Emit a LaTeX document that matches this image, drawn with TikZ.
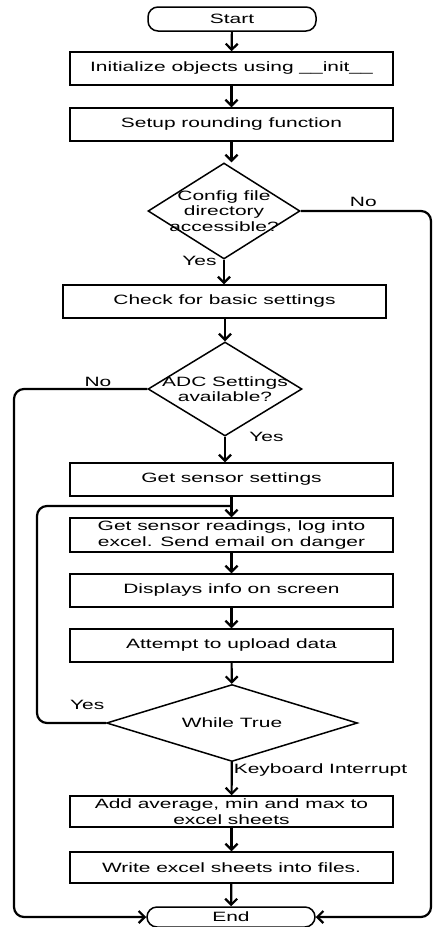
\documentclass[tikz,border=0pt]{standalone}
\usepackage{fontspec}
\setmainfont{Liberation Sans}[FakeStretch=1.55]
\usetikzlibrary{positioning,arrows.meta,shapes.geometric,calc}

\begin{document}
\begin{tikzpicture}[
    x=1pt, y=-1pt,
    font=\fontsize{13.5}{15.5}\selectfont,
    box/.style={draw, line width=1.5pt, align=center, minimum width=323pt, minimum height=33pt, inner sep=0pt},
    term/.style={draw, line width=1.5pt, rounded corners=10pt, minimum width=168pt, minimum height=22pt, inner sep=0pt},
    decision/.style={draw, diamond, line width=1.5pt, inner sep=0pt},
    arrow/.style={-{Straight Barb[length=6pt,width=12pt]}, line width=2.2pt},
    link/.style={line width=2.2pt, rounded corners=10pt}
]
\useasboundingbox (0,0) rectangle (435,927);

\node[term, minimum height=24pt] (start) at (232,19) {Start};
\node[box] (init) at (231.5,68.5) {Initialize objects using \_\_init\_\_};
\node[box] (round) at (231.5,124.5) {Setup rounding function};
\node[decision, minimum width=152pt, minimum height=96pt,
      label={[align=center]center:Config file\\directory\\accessible?}] (cfg) at (224,211) {};
\node[box] (check) at (224.5,301.5) {Check for basic settings};
\node[decision, minimum width=154pt, minimum height=94pt,
      label={[align=center]center:ADC Settings\\available?}] (adc) at (225,389) {};
\node[box] (sset) at (231.5,479.5) {Get sensor settings};
\node[box, minimum height=34pt] (read) at (231.5,535) {Get sensor readings, log into\\excel. Send email on danger};
\node[box] (disp) at (231.5,590.5) {Displays info on screen};
\node[box] (upl) at (231.5,645.5) {Attempt to upload data};
\node[decision, minimum width=251pt, minimum height=77pt,
      label=center:While True] (loop) at (232,723) {};
\node[box, minimum height=31pt] (stats) at (231.5,811.5) {Add average, min and max to\\excel sheets};
\node[box, minimum height=31pt] (write) at (231.5,867.5) {Write excel sheets into files.};
\node[term, minimum height=20pt] (end) at (231,917) {End};

\coordinate (leftrail) at (14,0);
\coordinate (looprail) at (37,0);
\coordinate (rightrail) at (431,0);
\coordinate (rejoin) at ($(sset.south)!0.45!(read.north)$);

\draw[arrow] (start) -- (init);
\draw[arrow] (init) -- (round);
\draw[arrow] (round.south) -- (round.south |- cfg.north);
\draw[arrow] (cfg.south) -- node[pos=0.05, left, xshift=-3pt]{Yes} (check.north -| cfg.south);
\draw[arrow] (check.south -| adc.north) -- (adc.north);
\draw[arrow] (adc.south) -- node[pos=0, anchor=west, xshift=20pt]{Yes} (adc.south |- sset.north);
\draw[arrow] (sset) -- (read);
\draw[arrow] (read) -- (disp);
\draw[arrow] (disp) -- (upl);
\draw[arrow] (upl) -- (loop);
\draw[arrow] (loop) -- node[pos=0.23, anchor=west, inner sep=1pt]{Keyboard Interrupt} (stats);
\draw[arrow] (stats) -- (write);
\draw[arrow] (write) -- (end);

\draw[link] (loop.west) -- node[pos=0.27, above=9pt]{Yes} (loop.west -| looprail) |- (rejoin);
\draw[link, arrow] (adc.west) -- node[pos=0.37, above, inner sep=1pt]{No} (adc.west -| leftrail) |- (end.west);
\draw[link, arrow] (cfg.east) -- node[pos=0.48, above]{No} (cfg.east -| rightrail) |- (end.east);
\end{tikzpicture}
\end{document}
